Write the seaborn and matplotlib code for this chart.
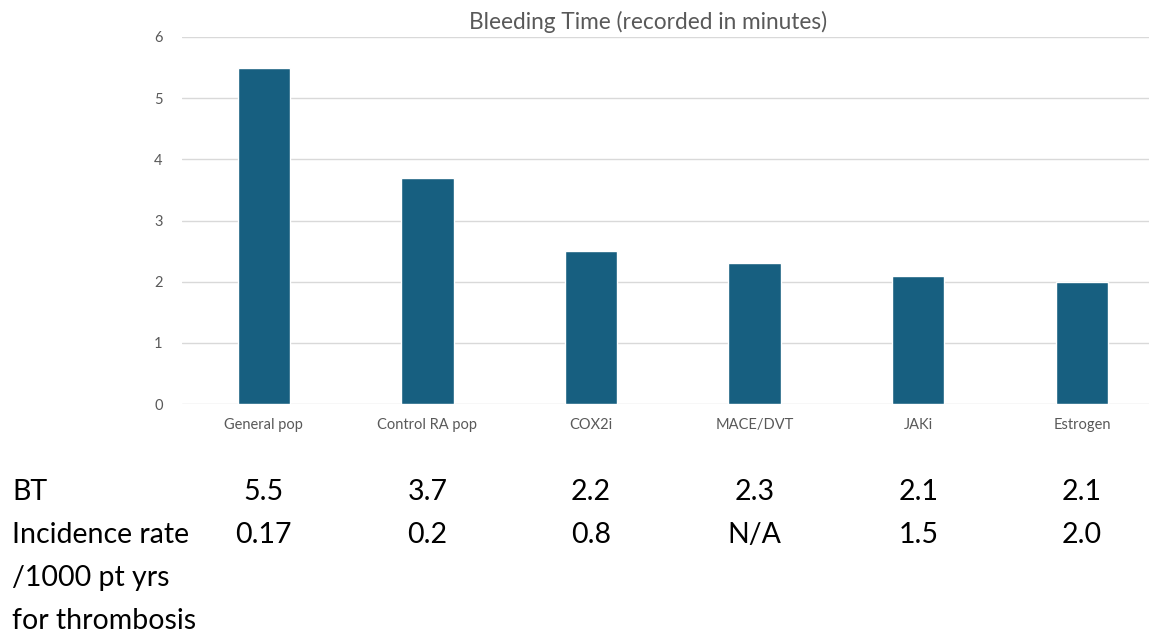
import pandas as pd
import seaborn as sns
import matplotlib.pyplot as plt
from matplotlib import transforms

categories = ["General pop", "Control RA pop", "COX2i", "MACE/DVT", "JAKi", "Estrogen"]
bleeding_time = [5.5, 3.7, 2.5, 2.3, 2.1, 2.0]
bt_labels = ["5.5", "3.7", "2.2", "2.3", "2.1", "2.1"]
incidence_labels = ["0.17", "0.2", "0.8", "N/A", "1.5", "2.0"]
y_ticks = [0, 1, 2, 3, 4, 5, 6]

df = pd.DataFrame({"group": categories, "bt": bleeding_time})

sns.set_style("white")
plt.rcParams['font.family'] = ['Lato', 'DejaVu Sans']

W, H = 1149, 633
fig = plt.figure(figsize=(W / 100, H / 100), dpi=100)
ax = fig.add_axes([182 / W, 1 - 404 / H, (W - 182) / W, (404 - 37) / H])

sns.barplot(data=df, x="group", y="bt", color="#175f80", width=0.32,
            saturation=1, ax=ax, zorder=3)

ax.set_ylim(0, 6)
ax.set_yticks(y_ticks)
ax.set_xlim(-0.5, 5.41)
ax.grid(axis="y", color="#d9d9d9", linewidth=1, zorder=0)
for s in ax.spines.values():
    s.set_visible(False)
ax.tick_params(axis="both", length=0, labelsize=10.5, labelcolor="#595959")
ax.tick_params(axis="x", pad=10)
ax.tick_params(axis="y", pad=14)
ax.set_xlabel("")
ax.set_ylabel("")

fig.text(648 / W, 1 - 22 / H, "Bleeding Time (recorded in minutes)",
         ha="center", va="center", fontsize=16.3, color="#595959")

# table under the chart
row_y = [492, 535, 578, 621]
row_names = ["BT", "Incidence rate", "/1000 pt yrs", "for thrombosis"]
for name, y in zip(row_names, row_y):
    fig.text(12 / W, 1 - y / H, name, ha="left", va="center",
             fontsize=20.5, color="black")

trans = transforms.blended_transform_factory(ax.transData, fig.transFigure)
for i, (b, inc) in enumerate(zip(bt_labels, incidence_labels)):
    for txt, y in ((b, row_y[0]), (inc, row_y[1])):
        ax.text(i, 1 - y / H, txt, transform=trans, fontsize=20.5,
                color="black", ha="center", va="center", clip_on=False)

fig.savefig("out.png", dpi=100)
